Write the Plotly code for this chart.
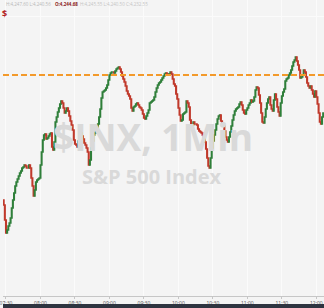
import plotly.graph_objects as go
import pandas as pd

# 1-minute closes of $INX
closes = [
    4217.25, 4213.5, 4210.25, 4211.0, 4212.0, 4212.75, 4214.0, 4216.5, 4218.5, 4220.25,
    4222.0, 4223.0, 4223.75, 4224.5, 4225.25, 4225.75, 4226.5, 4226.75, 4227.25, 4227.0,
    4226.5, 4226.5, 4227.25, 4226.5, 4224.0, 4222.0, 4219.5, 4221.0, 4223.0, 4223.5,
    4223.75, 4224.0, 4227.25, 4230.5, 4233.5, 4234.75, 4235.0, 4233.75, 4234.0, 4234.5,
    4235.0, 4235.25, 4231.75, 4231.0, 4233.0, 4238.0, 4239.25, 4240.5, 4241.5, 4242.5,
    4243.25, 4242.75, 4241.5, 4240.25, 4240.75, 4241.5, 4240.75, 4239.5, 4238.25, 4237.25,
    4236.0, 4233.5, 4232.5, 4232.25, 4231.75, 4233.25, 4235.0, 4235.25, 4234.5, 4233.75,
    4232.75, 4232.25, 4231.5, 4230.5, 4227.25, 4228.5, 4231.5, 4233.25, 4234.75, 4235.25,
    4236.0, 4236.5, 4237.5, 4239.25, 4241.25, 4244.0, 4245.5, 4245.75, 4246.0, 4246.5,
    4247.25, 4248.5, 4249.75, 4250.25, 4250.5, 4250.5, 4250.25, 4250.75, 4251.25, 4251.5,
    4251.75, 4251.25, 4250.5, 4249.5, 4248.75, 4248.0, 4247.0, 4245.75, 4245.0, 4244.5,
    4243.75, 4241.5, 4240.75, 4241.75, 4242.0, 4242.5, 4242.75, 4242.25, 4241.75, 4241.5,
    4241.0, 4240.0, 4239.0, 4238.75, 4239.5, 4240.25, 4241.0, 4242.75, 4243.0, 4243.25,
    4243.5, 4244.25, 4245.5, 4246.5, 4247.25, 4247.75, 4248.0, 4248.5, 4249.0, 4249.5,
    4250.0, 4250.25, 4250.0, 4249.75, 4250.0, 4250.5, 4250.0, 4248.75, 4247.5, 4247.0,
    4245.0, 4243.75, 4241.5, 4239.75, 4238.25, 4238.5, 4240.0, 4240.25, 4240.5, 4243.25,
    4242.75, 4241.75, 4238.5, 4237.0, 4237.25, 4238.0, 4237.5, 4237.5, 4237.25, 4236.25,
    4235.75, 4235.5, 4235.25, 4234.75, 4234.0, 4233.0, 4231.25, 4229.0, 4227.0, 4226.5,
    4229.0, 4231.5, 4233.25, 4234.75, 4236.0, 4237.5, 4238.75, 4239.5, 4239.75, 4238.25,
    4237.5, 4237.0, 4235.75, 4234.25, 4233.5, 4233.0, 4234.25, 4235.5, 4237.0, 4238.5,
    4239.75, 4240.75, 4241.25, 4241.5, 4241.75, 4242.5, 4243.0, 4242.25, 4241.0, 4240.25,
    4240.0, 4241.0, 4241.5, 4242.25, 4242.75, 4243.5, 4243.0, 4243.25, 4244.25, 4246.0,
    4246.75, 4246.5, 4244.75, 4242.75, 4240.25, 4238.0, 4237.75, 4239.25, 4241.25, 4242.75,
    4243.75, 4244.25, 4242.25, 4241.25, 4240.75, 4243.5, 4245.0, 4243.75, 4241.75, 4240.5,
    4239.5, 4242.75, 4244.5, 4245.5, 4246.25, 4248.25, 4248.75, 4249.0, 4249.75, 4250.25,
    4251.0, 4252.0, 4253.0, 4253.5, 4254.25, 4253.25, 4252.25, 4251.0, 4249.0, 4249.25,
    4249.75, 4251.0, 4250.5, 4249.25, 4247.75, 4247.0, 4246.5, 4247.0, 4246.0, 4245.0,
    4244.25, 4245.75, 4244.25, 4242.5, 4240.25, 4238.0, 4237.5, 4239.25, 4240.25,
]
first_open = 4218.5
start_time = "2023-06-01 07:28"
level_line = 4249.75
y_range = [4194.5, 4268.5]
x_range = ["2023-06-01 07:27:24", "2023-06-01 12:06:42"]
header_a = "H:4,247.60 L:4,240.56"
header_o = "O:4,244.68"
header_b = "H:4,245.55 L:4,240.50 C:4,232.55"
watermark_1 = "$INX, 1Min"
watermark_2 = "S&P 500 Index"

times = pd.date_range(start_time, periods=len(closes), freq="1min")
opens = [first_open] + closes[:-1]
highs = [max(o, c) for o, c in zip(opens, closes)]
lows = [min(o, c) for o, c in zip(opens, closes)]

fig = go.Figure()
fig.add_trace(go.Candlestick(
    x=times, open=opens, high=highs, low=lows, close=closes,
    increasing=dict(line=dict(color="#2f7f3a", width=1.5), fillcolor="#2f7f3a"),
    decreasing=dict(line=dict(color="#c0392b", width=1.5), fillcolor="#c0392b"),
    whiskerwidth=0, showlegend=False, hoverinfo="skip",
))

fig.add_shape(type="line", xref="paper", x0=0, x1=1, yref="y", y0=level_line, y1=level_line,
              line=dict(color="#f39a2b", width=2, dash="6px,3px"), layer="above")

# bottom dark strip
fig.add_shape(type="rect", xref="paper", x0=0, x1=1, yref="paper",
              y0=-12 / 296, y1=-8 / 296, fillcolor="#2e3440", line=dict(width=0), layer="above")

fig.add_annotation(text=watermark_1, xref="paper", yref="paper", x=151 / 324, y=1 - 136 / 296,
                   showarrow=False, font=dict(family="Open Sans", size=37, color="#d9d9d9",
                                               weight="bold"), xanchor="center", yanchor="middle")
fig.add_annotation(text=watermark_2, xref="paper", yref="paper", x=150 / 324, y=1 - 176 / 296,
                   showarrow=False, font=dict(family="Open Sans", size=20, color="#d9d9d9",
                                               weight="bold"), xanchor="center", yanchor="middle")

fig.add_annotation(text=header_a, xref="paper", yref="paper", x=1 / 324, y=1 - 4 / 296,
                   showarrow=False, xanchor="left", yanchor="middle",
                   font=dict(family="Open Sans", size=4.5, color="#b8b8b8"))
fig.add_annotation(text="<b>" + header_o + "</b>", xref="paper", yref="paper", x=50 / 324, y=1 - 4 / 296,
                   showarrow=False, xanchor="left", yanchor="middle",
                   font=dict(family="Open Sans", size=4.5, color="#8b2020"))
fig.add_annotation(text=header_b, xref="paper", yref="paper", x=76 / 324, y=1 - 4 / 296,
                   showarrow=False, xanchor="left", yanchor="middle",
                   font=dict(family="Open Sans", size=4.5, color="#c4c4c4"))
fig.add_annotation(text="<b>$</b>", xref="paper", yref="paper", x=-3 / 324, y=1 - 13 / 296,
                   showarrow=False, xanchor="left", yanchor="middle",
                   font=dict(family="Open Sans", size=9, color="#b22222"))

fig.update_layout(
    width=324, height=308,
    margin=dict(l=0, r=0, t=0, b=12),
    paper_bgcolor="#f4f4f4", plot_bgcolor="#f4f4f4",
    showlegend=False,
    xaxis=dict(type="date", range=x_range, rangeslider=dict(visible=False),
               tickformat="%H:%M", dtick=30 * 60 * 1000, tick0="2023-06-01 07:30",
               ticklabeloverflow="allow",
               showgrid=True, gridcolor="#fbfbfb", gridwidth=1,
               showline=True, linecolor="#c6c6c6", linewidth=1,
               ticks="outside", ticklen=2, tickcolor="#c6c6c6",
               tickfont=dict(family="Open Sans", size=5, color="#555555"),
               zeroline=False, fixedrange=True),
    yaxis=dict(range=y_range, showticklabels=False, showgrid=True, gridcolor="#fbfbfb",
               tickvals=[4264.5], zeroline=False, fixedrange=True),
)

fig.write_html("out.html")
